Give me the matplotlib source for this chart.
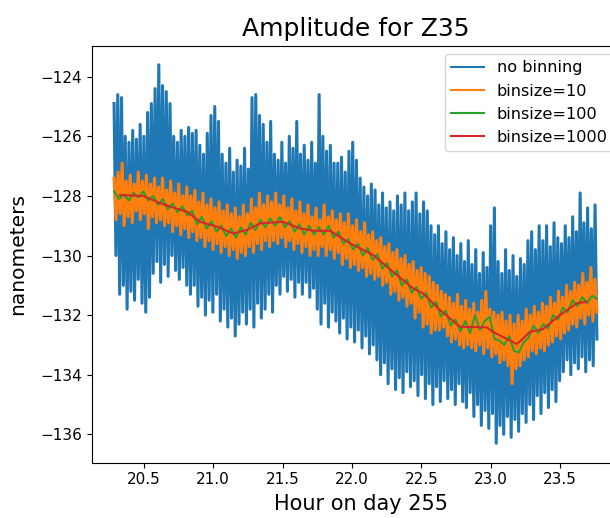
import numpy as np
import matplotlib
matplotlib.use("Agg")
import matplotlib.pyplot as plt

# hour range of the raw samples
t_start = 20.287
t_end = 23.764

# no binning: alternating upper / lower excursions
blue_hi = [
    -124.9, -124.6, -124.7, -126.0, -126.2, -125.8, -126.1, -125.6, -126.0, -125.2,
    -124.9, -124.4, -123.6, -124.3, -124.5, -124.9, -126.0, -126.2, -125.8, -126.0,
    -125.7, -125.9, -125.8, -126.3, -126.6, -125.9, -125.3, -125.0, -125.5, -126.6,
    -126.9, -126.4, -127.2, -126.8, -127.0, -126.4, -127.1, -124.7, -124.6, -125.3,
    -125.6, -126.2, -125.5, -126.6, -126.8, -126.2, -126.9, -126.0, -126.4, -125.5,
    -126.6, -126.3, -126.8, -126.2, -126.9, -124.6, -126.0, -126.5, -126.3, -126.9,
    -126.9, -126.7, -127.2, -126.5, -126.2, -126.8, -127.4, -127.7, -128.0, -127.6,
    -127.8, -128.3, -127.9, -128.4, -128.2, -128.5, -128.0, -128.3, -127.9, -128.5,
    -128.2, -127.9, -128.6, -128.2, -128.5, -129.0, -129.3, -129.0, -129.6, -129.2,
    -129.8, -129.4, -130.0, -129.6, -130.2, -129.5, -130.3, -129.8, -130.6, -129.9,
    -130.4, -129.0, -128.4, -130.2, -130.6, -129.8, -130.5, -130.0, -130.7, -130.1,
    -130.3, -129.5, -129.2, -129.8, -129.0, -129.5, -129.0, -129.7, -128.9, -129.4,
    -129.6, -129.0, -129.4, -128.7, -129.2, -127.9, -128.9, -128.4, -129.1, -128.3,
]
blue_lo = [
    -130.0, -131.3, -131.0, -131.8, -131.2, -131.5, -130.8, -131.6, -131.9, -131.4,
    -130.6, -130.2, -130.9, -130.3, -130.7, -130.0, -130.5, -130.8, -130.4, -131.0,
    -131.3, -131.0, -131.7, -131.4, -132.0, -131.5, -131.9, -131.3, -132.2, -131.8,
    -132.4, -132.1, -132.7, -132.3, -131.9, -132.3, -131.8, -132.4, -131.6, -132.1,
    -131.8, -131.3, -131.9, -131.0, -131.3, -130.7, -131.2, -130.8, -131.4, -130.9,
    -131.3, -130.9, -131.4, -131.1, -131.8, -132.3, -131.6, -132.4, -131.9, -132.2,
    -132.6, -132.1, -132.8, -132.4, -132.9, -132.5, -133.1, -132.7, -133.3, -133.0,
    -133.5, -134.0, -133.6, -134.3, -133.8, -134.5, -134.1, -134.6, -133.9, -134.4,
    -134.2, -134.7, -134.0, -134.8, -134.3, -135.0, -134.4, -134.9, -134.2, -134.8,
    -134.5, -135.0, -134.3, -134.9, -135.1, -134.6, -135.4, -135.0, -135.7, -135.2,
    -135.8, -135.3, -136.3, -135.7, -136.0, -135.4, -136.1, -135.5, -135.9, -135.3,
    -135.6, -135.0, -135.5, -134.7, -135.3, -134.6, -135.1, -134.5, -134.9, -134.2,
    -133.9, -133.5, -134.0, -133.6, -133.8, -133.4, -133.9, -133.5, -133.7, -132.8,
]

# binsize=10
orange_hi = [
    -127.4, -127.2, -126.9, -127.5, -127.3, -127.6, -127.2, -127.5, -127.3, -127.6,
    -127.4, -127.7, -127.4, -127.8, -127.5, -127.9, -127.6, -128.0, -127.7, -128.0,
    -127.8, -128.2, -127.9, -128.3, -128.1, -128.4, -128.2, -128.5, -128.3, -128.6,
    -128.4, -128.7, -128.3, -128.6, -128.1, -128.4, -127.9, -128.3, -128.0, -128.2,
    -127.9, -128.3, -128.0, -128.4, -128.1, -128.5, -128.2, -128.6, -128.3, -128.7,
    -128.4, -128.8, -128.3, -128.7, -128.5, -128.8, -128.6, -128.9, -128.6, -129.0,
    -128.8, -129.2, -128.9, -129.3, -129.2, -129.5, -129.4, -129.7, -129.6, -129.9,
    -129.8, -130.1, -130.0, -130.3, -130.2, -130.5, -130.4, -130.6, -130.7, -130.9,
    -131.0, -131.2, -131.3, -131.4, -131.6, -131.3, -131.7, -131.5, -131.8, -131.6,
    -131.9, -131.5, -131.2, -131.8, -131.9, -132.0, -131.9, -132.2, -132.0, -132.3,
    -132.0, -132.2, -131.8, -132.0, -131.7, -131.9, -131.6, -131.7, -131.4, -131.6,
    -131.2, -131.4, -131.0, -131.2, -130.9, -131.0, -130.6, -130.9, -130.4, -130.8,
]
orange_lo = [
    -128.8, -128.6, -129.0, -128.7, -128.9, -128.5, -128.8, -128.6, -129.1, -128.7,
    -128.9, -128.8, -129.0, -128.9, -129.2, -129.0, -129.3, -129.1, -129.4, -129.2,
    -129.5, -129.4, -129.7, -129.5, -129.8, -129.6, -129.9, -129.7, -130.0, -129.8,
    -130.1, -129.9, -130.0, -129.7, -129.9, -129.6, -129.8, -129.5, -129.7, -129.5,
    -129.6, -129.4, -129.7, -129.5, -129.8, -129.6, -129.9, -129.7, -130.0, -129.8,
    -130.0, -129.7, -130.0, -129.8, -130.1, -129.9, -130.3, -130.1, -130.4, -130.3,
    -130.5, -130.4, -130.7, -130.6, -130.8, -130.7, -131.0, -130.9, -131.3, -131.2,
    -131.5, -131.4, -131.7, -131.6, -132.1, -131.9, -132.4, -132.3, -132.6, -132.5,
    -132.5, -132.4, -132.7, -132.9, -132.8, -133.0, -133.1, -133.0, -133.1, -133.2,
    -133.0, -133.3, -133.1, -133.4, -133.3, -133.6, -133.5, -133.7, -134.3, -133.8,
    -133.7, -133.5, -133.4, -133.2, -133.3, -133.1, -133.2, -133.0, -132.9, -132.7,
    -132.8, -132.6, -132.5, -132.3, -132.4, -132.1, -132.3, -132.0, -132.2, -131.9,
]

# binsize=100
green_vals = [
    -127.85, -128.1, -127.95, -128.15, -127.9, -128.05, -127.85, -128.15, -128.0, -128.3,
    -128.1, -128.45, -128.25, -128.55, -128.35, -128.65, -128.5, -128.95, -128.7, -129.1,
    -128.85, -129.2, -129.0, -129.35, -129.1, -129.4, -129.05, -129.3, -128.9, -129.15,
    -128.8, -129.05, -128.75, -129.0, -128.7, -129.05, -128.85, -129.2, -128.95, -129.3,
    -129.0, -129.3, -129.05, -129.3, -129.0, -129.4, -129.2, -129.6, -129.45, -129.8,
    -129.6, -130.0, -129.75, -130.15, -129.95, -130.45, -130.25, -130.7, -130.5, -131.0,
    -130.8, -131.25, -131.05, -131.45, -131.25, -131.75, -131.55, -132.05, -131.85, -132.35,
    -132.15, -132.55, -132.2, -132.6, -132.0, -132.5, -132.2, -132.05, -132.8, -132.85,
    -133.0, -132.7, -133.2, -133.25, -132.9, -132.75, -132.35, -132.6, -132.3, -132.45,
    -132.0, -132.15, -131.75, -131.9, -131.5, -131.7, -131.4, -131.6, -131.35, -131.45,
]

# binsize=1000
red_hours = [20.330, 20.496, 20.596, 20.690, 20.812, 20.906, 21.028, 21.144, 21.244,
             21.338, 21.504, 21.626, 21.720, 21.843, 21.987, 22.152, 22.253, 22.440,
             22.512, 22.634, 22.778, 22.972, 23.015, 23.188, 23.282, 23.375, 23.497,
             23.620, 23.692]
red_vals = [-127.97, -128.0, -128.2, -128.36, -128.53, -128.87, -129.03, -129.26, -129.14,
            -128.92, -128.87, -129.09, -129.17, -129.17, -129.59, -129.98, -130.38, -131.1,
            -131.27, -131.83, -132.39, -132.41, -132.56, -132.97, -132.56, -132.47, -132.0,
            -131.6, -131.55]

blue_y = np.column_stack([blue_hi, blue_lo]).ravel()
blue_t = np.linspace(t_start, t_end, len(blue_y))
orange_y = np.column_stack([orange_hi, orange_lo]).ravel()
orange_t = np.linspace(t_start, t_end, len(orange_y))
green_t = np.linspace(t_start, t_end, len(green_vals))

fig = plt.figure(figsize=(6.1, 5.18), dpi=100)
ax = fig.add_axes([91.7 / 610, 55.3 / 518, 538 / 610, 417 / 518])

ax.plot(blue_t, blue_y, color="#1f77b4", lw=2.2, label="no binning")
ax.plot(orange_t, orange_y, color="#ff7f0e", lw=2.2, label="binsize=10")
ax.plot(green_t, green_vals, color="#2ca02c", lw=1.5, label="binsize=100")
ax.plot(red_hours, red_vals, color="#d62728", lw=1.5, label="binsize=1000")

ax.set_xlim(20.126, 24.0)
ax.set_ylim(-136.95, -122.96)
ax.set_xticks([20.5, 21.0, 21.5, 22.0, 22.5, 23.0, 23.5])
ax.set_yticks([-124, -126, -128, -130, -132, -134, -136])
ax.tick_params(labelsize=11)

ax.set_title("Amplitude for Z35", fontsize=18, pad=7, x=(356 - 91.7) / 538)
ax.set_xlabel("Hour on day 255", fontsize=15, labelpad=5)
ax.set_ylabel("nanometers", fontsize=14.5, labelpad=9)
leg = ax.legend(loc="upper right", fontsize=11.6, borderaxespad=0,
                bbox_to_anchor=(614 / 610, 1 - 54 / 518),
                bbox_transform=fig.transFigure)
for line in leg.get_lines():
    line.set_linewidth(1.5)

fig.savefig("out.png", dpi=100)
